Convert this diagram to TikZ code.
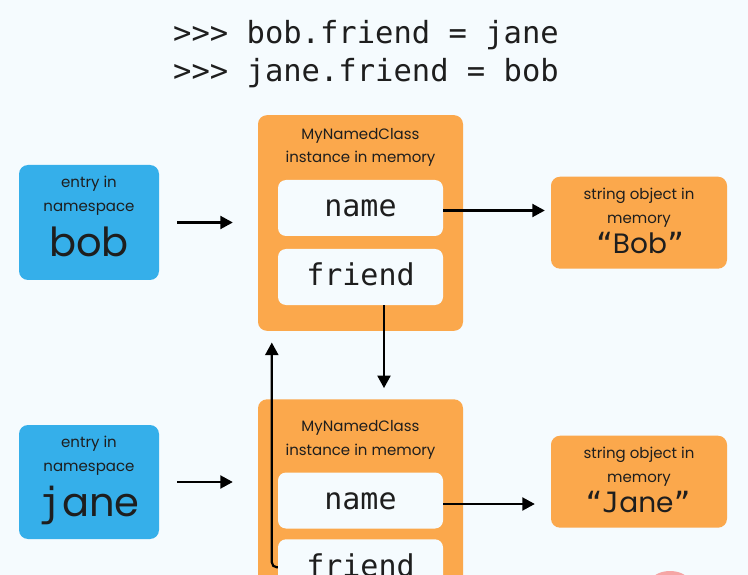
\documentclass[tikz,border=0pt]{standalone}
\usepackage{fontspec}
\setmainfont{Poppins}
\newfontfamily\mono{DejaVu Sans Mono}
\usetikzlibrary{arrows.meta}
\definecolor{bg}{HTML}{F5FBFE}
\definecolor{blu}{HTML}{35AFEA}
\definecolor{org}{HTML}{FBA84C}
\definecolor{ink}{HTML}{1E1E1E}
\definecolor{pinkc}{HTML}{F6A5A5}
\begin{document}
\begin{tikzpicture}[x=1pt,y=-1pt,
  box/.style={rounded corners=9pt, inner sep=0pt, draw=none},
  bluebox/.style={box, fill=blu},
  orgbox/.style={box, fill=org},
  slot/.style={box, fill=bg, rounded corners=8pt},
  lbl/.style={text=ink, inner sep=0pt, anchor=base, font=\fontsize{15}{18}\selectfont},
  big/.style={text=ink, inner sep=0pt, anchor=base, font=\fontsize{40}{46}\selectfont},
  mid/.style={text=ink, inner sep=0pt, anchor=base, font=\fontsize{28}{32}\selectfont},
  monolbl/.style={text=ink, inner sep=0pt, anchor=base, font=\mono\fontsize{30}{34}\selectfont},
  code/.style={text=ink, inner sep=0pt, anchor=base west, font=\mono\fontsize{30.5}{36}\selectfont},
  arr/.style={draw=black, line width=2.2pt, -{Triangle[length=12.5pt,width=13pt]}}
]
\fill[bg] (0,0) rectangle (748,575);
\useasboundingbox (0,0) rectangle (748,575);

% code lines
\node[code] (c1) at (173,44) {>>> bob.friend = jane};
\node[code] (c2) at (173,82) {>>> jane.friend = bob};

% namespace boxes
\node[bluebox, minimum width=140pt, minimum height=115pt] (bob) at (89,222.5) {};
\node[lbl] (bobt1) at (89,188) {entry in};
\node[lbl] (bobt2) at (89,211.5) {namespace};
\node[big] (bobt3) at (89,256.5) {bob};

\node[bluebox, minimum width=140pt, minimum height=114pt] (jane) at (89,482) {};
\node[lbl] (janet1) at (89,447.5) {entry in};
\node[lbl] (janet2) at (89,471.5) {namespace};
\node[big] (janet3) at (89,516) {{\mono j}ane};

% instance boxes
\node[orgbox, minimum width=205pt, minimum height=215.7pt] (inst1) at (360.5,223) {};
\node[lbl] (i1t1) at (360.5,139.3) {MyNamedClass};
\node[lbl] (i1t2) at (360.5,162.7) {instance in memory};
\node[slot, minimum width=165pt, minimum height=56pt] (name1) at (360.5,208) {};
\node[monolbl] (name1t) at (360.5,217) {name};
\node[slot, minimum width=165pt, minimum height=56pt] (friend1) at (360.5,277) {};
\node[monolbl] (friend1t) at (360.5,286) {friend};

\node[orgbox, minimum width=205pt, minimum height=240pt] (inst2) at (360.5,519.3) {};
\node[lbl] (i2t1) at (360.5,431.7) {MyNamedClass};
\node[lbl] (i2t2) at (360.5,455) {instance in memory};
\node[slot, minimum width=165pt, minimum height=56pt] (name2) at (360.5,500.5) {};
\node[monolbl] (name2t) at (360.5,509) {name};
\node[slot, minimum width=165pt, minimum height=56pt] (friend2) at (360.5,567.3) {};
\node[monolbl] (friend2t) at (360.5,576.5) {friend};

% string boxes
\node[orgbox, minimum width=176pt, minimum height=92pt] (str1) at (639,222.7) {};
\node[lbl] (s1t1) at (639,199.3) {string object in};
\node[lbl] (s1t2) at (639,223.3) {memory};
\node[mid] (s1t3) at (640,253.3) {{\mono “}Bob{\mono ”}};

\node[orgbox, minimum width=176pt, minimum height=92pt] (str2) at (639,481.7) {};
\node[lbl] (s2t1) at (639,458.3) {string object in};
\node[lbl] (s2t2) at (639,482.3) {memory};
\node[mid] (s2t3) at (638,512.8) {{\mono “J}ane{\mono ”}};

% decoration circle
\fill[pinkc] (670,601) circle (30);

% connectors
\draw[arr, shorten <=18pt, shorten >=25pt] (bob.east) -- (bob.east -| inst1.west);
\draw[arr, shorten <=18pt, shorten >=25pt] (jane.east) -- (jane.east -| inst2.west);
\draw[arr, shorten >=6pt] ([yshift=-2.5pt]name1.east) -- ([yshift=-2.5pt]name1.east -| str1.west);
\draw[arr, shorten >=16pt] ([yshift=-3.5pt]name2.east) -- ([yshift=-3.5pt]name2.east -| str2.west);
\draw[arr, shorten >=11pt] ([xshift=23.5pt]friend1.south) -- ([xshift=23.5pt]friend1.south |- inst2.north);
\draw[arr, shorten >=11.5pt, rounded corners=5pt] (friend2.west) -| ([xshift=14pt]inst1.south west);
\end{tikzpicture}
\end{document}
